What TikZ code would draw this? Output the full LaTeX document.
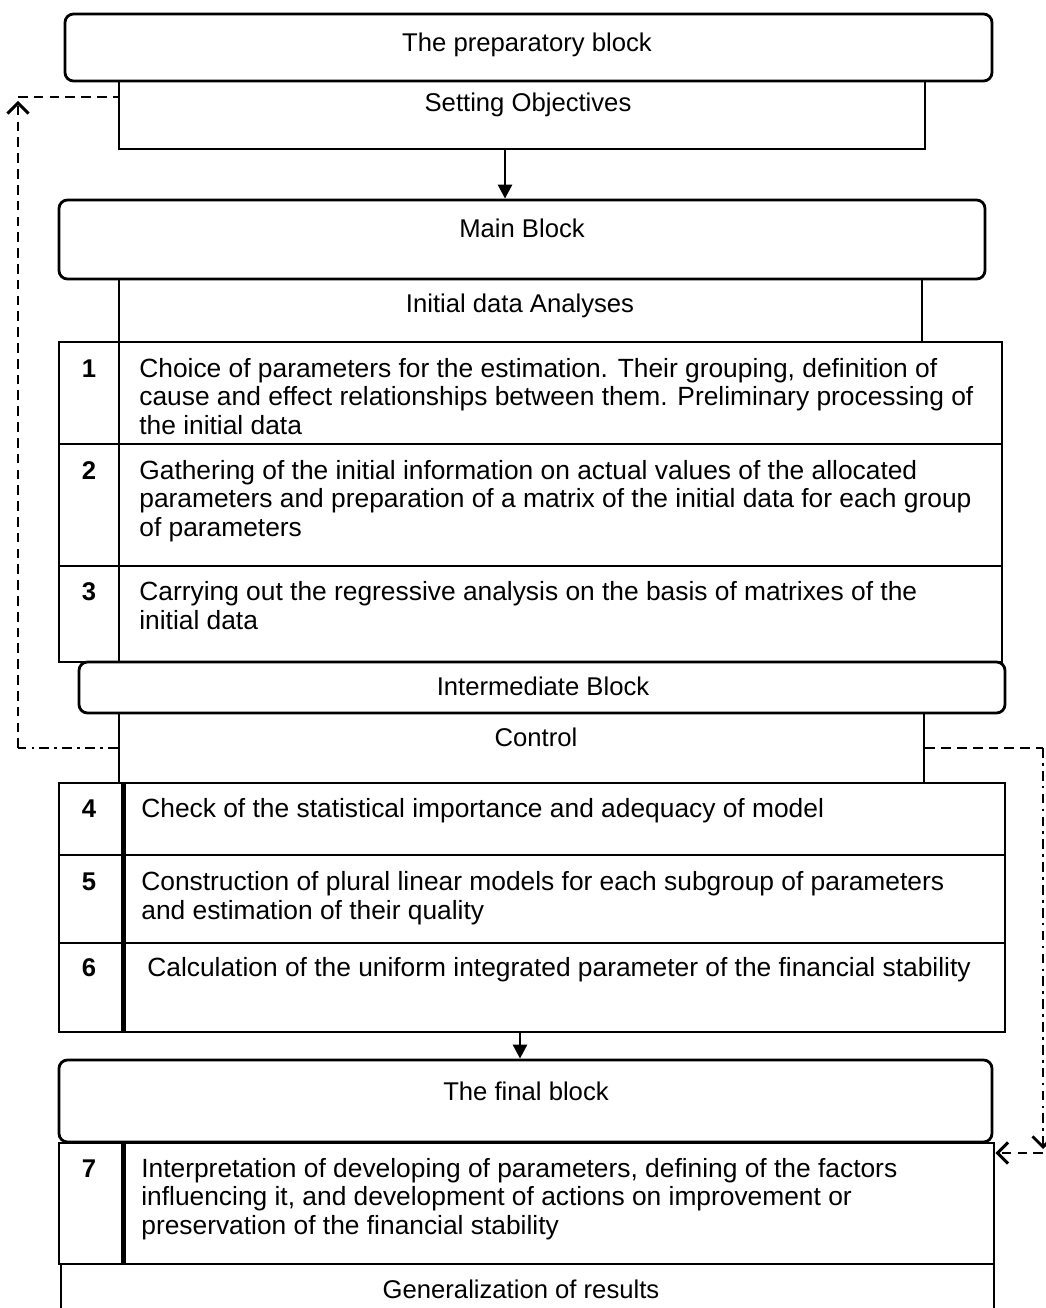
\documentclass[tikz,border=0pt]{standalone}
\usepackage{fontspec}
\setmainfont{Liberation Sans}
\usetikzlibrary{fit,arrows.meta}
\begin{document}
\begin{tikzpicture}[x=0.02cm,y=-0.02cm,
  bx/.style={draw,line width=1.6pt,inner sep=0pt,fill=white},
  rbx/.style={bx,rounded corners=0.17cm},
  txt/.style={font=\fontsize{14.6}{16.2}\selectfont,inner sep=0pt},
  body/.style={txt,font=\fontsize{15}{16.2}\selectfont,anchor=base west,align=left},
  num/.style={txt,font=\fontsize{14.6}{16.2}\selectfont\bfseries,anchor=base},
  ttl/.style={txt,anchor=base},
  dsh/.style={line width=1.5pt,dash pattern=on 5.5pt off 3.5pt},
  dshdot/.style={line width=1.5pt,dash pattern=on 5.5pt off 3pt on 1.5pt off 3pt},
  barb/.style={-{Straight Barb[length=6pt,width=12pt,line width=1.7pt]}},
  mainarrow/.style={line width=1.6pt,-{Triangle[length=8pt,width=8pt]}}]
\useasboundingbox (0,0) rectangle (1045,1308);

% preparatory block
\node[bx,fit={(119,81)(925,149)}] (setobj) {};
\node[rbx,fit={(65,14)(992,81)}] (prep) {};
\node[ttl] (prept) at (527,52) {The preparatory block};
\node[ttl] (setobjt) at (528,112) {Setting Objectives};

% main block
\node[bx,fit={(119,279)(922,342)}] (ida) {};
\node[rbx,fit={(59,200)(985,279)}] (mainb) {};
\node[ttl] (mainbt) at (522,237) {Main Block};
\node[ttl] (idat) at (520,312) {Initial data Analyses};

\node[bx,fit={(59,342)(119,444)}] (n1) {};
\node[bx,fit={(119,342)(1002,444)}] (r1) {};
\node[bx,fit={(59,444)(119,566)}] (n2) {};
\node[bx,fit={(119,444)(1002,566)}] (r2) {};
\node[bx,fit={(59,566)(119,662)}] (n3) {};
\node[bx,fit={(119,566)(1002,662)}] (r3) {};
\node[num] (n1t) at (89,377) {1};
\node[num] (n2t) at (89,479) {2};
\node[num] (n3t) at (89,600) {3};
% body nodes: base anchor = baseline of the last line
\node[body] (r1t) at (139,434) {Choice of parameters for the estimation. Their grouping, definition of\\cause and effect relationships between them. Preliminary processing of\\the initial data};
\node[body] (r2t) at (139,536) {Gathering of the initial information on actual values of the allocated\\parameters and preparation of a matrix of the initial data for each group\\of parameters};
\node[body] (r3t) at (139,629) {Carrying out the regressive analysis on the basis of matrixes of the\\initial data};

% intermediate block
\node[bx,fit={(119,713)(924,783)}] (ctrl) {};
\node[rbx,fit={(79,662)(1005,713)}] (interb) {};
\node[ttl] (interbt) at (543,695) {Intermediate Block};
\node[ttl] (ctrlt) at (536,746) {Control};

\node[bx,fit={(59,783)(122,855)}] (n4) {};
\node[bx,fit={(122,783)(1005,855)}] (r4) {};
\node[bx,fit={(59,855)(122,943)}] (n5) {};
\node[bx,fit={(122,855)(1005,943)}] (r5) {};
\node[bx,fit={(59,943)(122,1032)}] (n6) {};
\node[bx,fit={(122,943)(1005,1032)}] (r6) {};
\draw[line width=2.6pt] (n4.north east) -- (n6.south east);
\node[num] (n4t) at (89,817) {4};
\node[num] (n5t) at (89,890) {5};
\node[num] (n6t) at (89,976) {6};
\node[body] (r4t) at (141,817) {Check of the statistical importance and adequacy of model};
\node[body] (r5t) at (141,919) {Construction of plural linear models for each subgroup of parameters\\and estimation of their quality};
\node[body] (r6t) at (147,976) {Calculation of the uniform integrated parameter of the financial stability};

% final block
\node[rbx,fit={(59,1060)(992,1142)}] (finb) {};
\node[ttl] (finbt) at (526,1100) {The final block};
\node[bx,fit={(59,1143)(122,1264)}] (n7) {};
\node[bx,fit={(122,1143)(994,1264)}] (r7) {};
\draw[line width=2.6pt] (n7.north east) -- (n7.south east);
\node[num] (n7t) at (89,1177) {7};
\node[body] (r7t) at (141,1234) {Interpretation of developing of parameters, defining of the factors\\influencing it, and development of actions on improvement or\\preservation of the financial stability};

% generalization
\coordinate (gl) at (61,1312);
\coordinate (gr) at (994,1312);
\draw[line width=1.6pt] (gl) -- (61,1264) -- (994,1264) -- (gr);
\node[ttl] (gent) at (521,1298) {Generalization of results};

% main arrows
\draw[mainarrow] (setobj.south -| 505,0) -- (mainb.north -| 505,0);
\draw[mainarrow] (r6.south -| 520,0) -- (finb.north -| 520,0);

% feedback left
\coordinate (lb) at (18,748);
\coordinate (lt) at (18,97);
\coordinate (la) at (18,101);
\draw[dshdot] (ctrl.west |- 0,748) -- (lb);
\draw[dsh,barb] (lb) -- (la);
\draw[dsh] (lt) -- (setobj.west |- 0,97);

% feedback right
\coordinate (rt) at (1043,748);
\coordinate (rb) at (1043,1153);
\coordinate (ra) at (1043,1149);
\draw[dsh] (ctrl.east |- 0,748) -- (rt);
\draw[dshdot,barb] (rt) -- (ra);
\draw[dsh,barb] (rb) -- (r7.north east |- 0,1153);
\end{tikzpicture}
\end{document}
